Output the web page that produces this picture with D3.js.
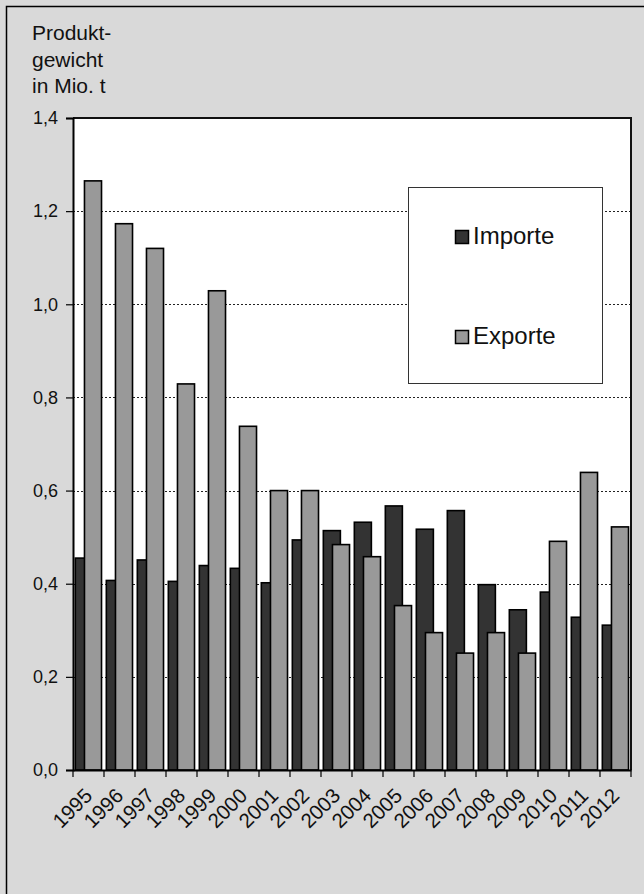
<!DOCTYPE html>
<html><head><meta charset="utf-8">
<script src="https://cdn.jsdelivr.net/npm/d3@7/dist/d3.min.js"></script>
<style>body{margin:0;background:#fff}svg{display:block}text{font-family:"Liberation Sans",Arial,sans-serif;fill:#111}</style>
</head><body><svg id="c" width="644" height="894"></svg>
<script>
const years = ["1995","1996","1997","1998","1999","2000","2001","2002","2003","2004","2005","2006","2007","2008","2009","2010","2011","2012"];
const importe = [0.455,0.407,0.451,0.405,0.439,0.433,0.402,0.494,0.514,0.532,0.567,0.517,0.557,0.398,0.344,0.382,0.328,0.311];
const exporte = [1.265,1.173,1.120,0.829,1.029,0.738,0.600,0.600,0.484,0.458,0.353,0.295,0.251,0.295,0.251,0.491,0.639,0.522];
const yTicks = [0,0.2,0.4,0.6,0.8,1.0,1.2,1.4];
const titleLines = ["Produkt-","gewicht","in Mio. t"];
const seriesNames = ["Importe","Exporte"];
const seriesColors = ["#333333","#999999"];

const svg = d3.select("#c");
svg.append("rect").attr("x",0).attr("y",0).attr("width",644).attr("height",894).attr("fill","#d9d9d9");
svg.append("rect").attr("x",6.5).attr("y",6.5).attr("width",660).attr("height",900).attr("fill","none").attr("stroke","#000").attr("stroke-width",1.5);

const L=73,R=631,T=118,B=770;
const x = d3.scaleBand().domain(years).range([L,R]).padding(0);
const y = d3.scaleLinear().domain([0,1.4]).range([B,T]);
const bw = x.bandwidth();

svg.append("rect").attr("x",L).attr("y",T).attr("width",R-L).attr("height",B-T).attr("fill","#fff");

// gridlines
svg.append("g").selectAll("line").data(yTicks.filter(d=>d>0&&d<1.4)).join("line")
  .attr("x1",L).attr("x2",R).attr("y1",d=>Math.round(y(d))+0.5).attr("y2",d=>Math.round(y(d))+0.5)
  .attr("stroke","#222").attr("stroke-width",1).attr("stroke-dasharray","2,2");

// bars
const series=[importe,exporte];
const offs=[0.075,0.37];
series.forEach((vals,si)=>{
  svg.append("g").selectAll("rect").data(years).join("rect")
    .attr("x",(d)=>x(d)+offs[si]*bw)
    .attr("width",0.55*bw)
    .attr("y",(d,i)=>y(vals[i]))
    .attr("height",(d,i)=>B-y(vals[i]))
    .attr("fill",seriesColors[si]).attr("stroke","#000").attr("stroke-width",1.6);
});

// plot border top/right
svg.append("path").attr("d",`M${L},${T}H${R}V${B}`).attr("fill","none").attr("stroke","#111").attr("stroke-width",2);

// y axis
const ya = svg.append("g").attr("transform",`translate(${L},0)`)
  .call(d3.axisLeft(y).tickValues(yTicks).tickSize(7).tickPadding(8).tickFormat(d=>d3.format(".1f")(d).replace(".",",")));
ya.select(".domain").attr("stroke","#000").attr("stroke-width",2);
ya.selectAll(".tick line").attr("stroke","#000").attr("stroke-width",1.2);
ya.selectAll("text").attr("font-size",18).attr("fill","#111");

// x axis
const xa = svg.append("g").attr("transform",`translate(0,${B})`)
  .call(d3.axisBottom(x).tickSize(0).tickFormat(d=>d));
xa.select(".domain").attr("stroke","#000").attr("stroke-width",2);
xa.selectAll(".tick line").remove();
xa.selectAll(".tick text").attr("font-size",20.5).attr("fill","#111")
  .attr("text-anchor","end").attr("y",0).attr("dy",0).attr("transform","translate(5,27) rotate(-45)");
const bounds = years.map(d=>x(d)).concat([R]);
svg.append("g").selectAll("line").data(bounds).join("line")
  .attr("x1",d=>d).attr("x2",d=>d).attr("y1",B).attr("y2",B+7).attr("stroke","#000").attr("stroke-width",1.2);

// axis title
svg.append("g").selectAll("text").data(titleLines).join("text")
  .attr("x",32).attr("y",(d,i)=>40+i*26.5).attr("font-size",21).text(d=>d);

// legend
svg.append("rect").attr("x",408.5).attr("y",187.5).attr("width",194).attr("height",196).attr("fill","#fff").attr("stroke","#333").attr("stroke-width",1);
const lg = svg.append("g").selectAll("g").data(seriesNames).join("g")
  .attr("transform",(d,i)=>`translate(455,${230+i*100})`);
lg.append("rect").attr("x",0.5).attr("y",0.5).attr("width",13).attr("height",13).attr("fill",(d,i)=>seriesColors[i]).attr("stroke","#000").attr("stroke-width",1.5);
lg.append("text").attr("x",18).attr("y",14).attr("font-size",24).text(d=>d);
</script></body></html>
